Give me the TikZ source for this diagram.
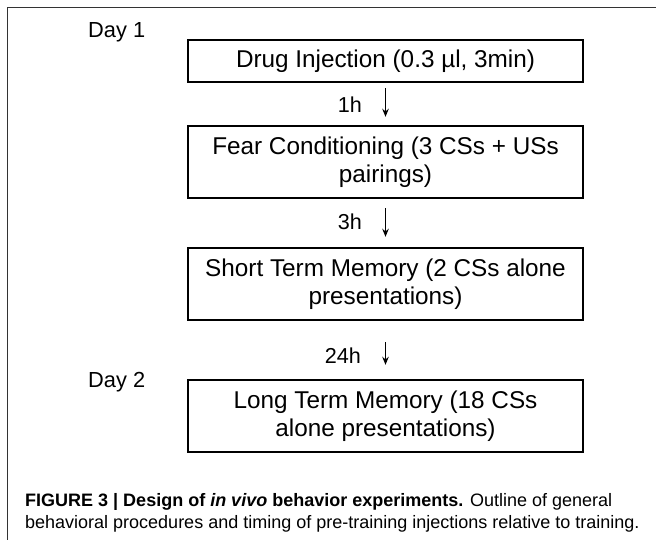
\documentclass[tikz,border=0pt]{standalone}
\usepackage{fontspec}
\setmainfont{Liberation Sans}
\usetikzlibrary{arrows.meta}
\tikzset{
  stagebox/.style={draw=black, line width=2.4bp, minimum width=395bp, align=center, inner sep=0pt,
     font=\fontsize{24.3bp}{27.5bp}\selectfont},
  daylabel/.style={anchor=base west, inner sep=0pt, font=\fontsize{21.8bp}{24bp}\selectfont},
  timelabel/.style={anchor=base east, inner sep=0pt, font=\fontsize{21.6bp}{24bp}\selectfont},
  steparrow/.style={line width=1.3bp, -{Stealth[length=8bp,width=6.5bp]}},
  frameline/.style={draw=black!80, line width=1.4bp},
  captext/.style={anchor=base west, inner sep=0pt, font=\fontsize{18bp}{21bp}\selectfont}
}
\begin{document}
\begin{tikzpicture}[x=1bp, y=-1bp]
\useasboundingbox (0,0) rectangle (656,540);
\draw[frameline] (7.5,541) -- (7.5,7.5) -- (657,7.5);

\node[daylabel] (day1) at (88,38) {Day 1};
\node[daylabel] (day2) at (88,387) {Day 2};

\node[stagebox, minimum height=42bp] (b1) at (385.5,61) {Drug Injection (0.3 µl, 3min)};
\node[stagebox, minimum height=72bp] (b2) at (385.5,162) {Fear Conditioning (3 CSs + USs\\pairings)};
\node[stagebox, minimum height=72bp] (b3) at (385.5,284) {Short Term Memory (2 CSs alone\\presentations)};
\node[stagebox, minimum height=72bp] (b4) at (385.5,416) {Long Term Memory (18 CSs\\alone presentations)};

\node[timelabel] (t1) at (362,113) {1h};
\node[timelabel] (t2) at (362,230) {3h};
\node[timelabel] (t3) at (361,363) {24h};

\draw[steparrow, shorten <=5bp, shorten >=8bp] (b1.south) -- (b2.north);
\draw[steparrow, shorten <=9bp, shorten >=10bp] (b2.south) -- (b3.north);
\draw[steparrow, shorten <=21bp, shorten >=14bp] (b3.south) -- (b4.north);

\node[captext] (cap1) at (25,506) {\textbf{FIGURE 3 | Design of \textit{in vivo} behavior experiments.} Outline of general};
\node[captext] (cap2) at (25,528) {behavioral procedures and timing of pre-training injections relative to training.};
\end{tikzpicture}
\end{document}
